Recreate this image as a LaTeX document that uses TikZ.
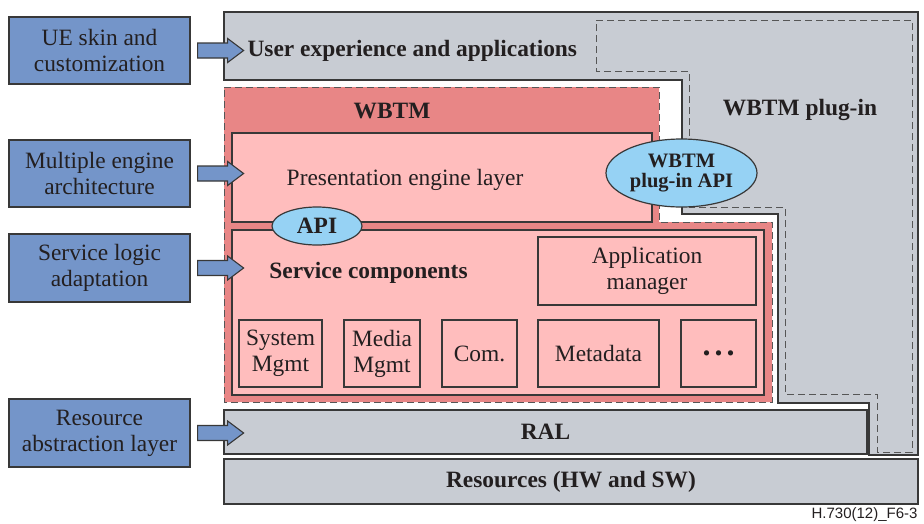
\documentclass[tikz,border=0pt]{standalone}
\usepackage{fontspec}
\setmainfont{Liberation Serif}
\newfontfamily\capfont{Liberation Sans}
\usetikzlibrary{shapes.geometric}

\definecolor{boxblue}{HTML}{7495C9}
\definecolor{layergray}{HTML}{C8CCD3}
\definecolor{wbtmpink}{HTML}{E88686}
\definecolor{lightpink}{HTML}{FFBDBD}
\definecolor{apiblue}{HTML}{96D2F4}
\definecolor{edge}{HTML}{383838}
\definecolor{ink}{HTML}{231F20}

\tikzset{
  base/.style={font=\fontsize{23.4}{26}\selectfont, text=ink},
  boldtxt/.style={base, font=\fontsize{23.4}{26}\selectfont\bfseries},
  sidebox/.style={base, draw=edge, line width=1.2pt, fill=boxblue,
    minimum width=181, minimum height=67, inner sep=0pt, align=center},
  pinkbox/.style={draw=edge, line width=1.2pt, fill=lightpink, inner sep=0pt},
  graybox/.style={draw=edge, line width=1.2pt, fill=layergray, inner sep=0pt},
  apioval/.style={ellipse, draw=edge, line width=1.2pt, fill=apiblue,
    inner sep=0pt, align=center},
  outline/.style={draw=edge, line width=1.2pt},
  dashline/.style={draw=edge!85, line width=1pt, dash pattern=on 7pt off 4pt},
  barrow/.pic={
    \draw[draw=edge, line width=1.1pt, fill=boxblue]
      (0,-7.5) -- (30,-7.5) -- (30,-12) -- (46,0) -- (30,12)
      -- (30,7.5) -- (0,7.5) -- cycle;
  }
}

\begin{document}
\begin{tikzpicture}[x=1pt, y=-1pt]
\useasboundingbox (0,0) rectangle (924,523);

% plug-in area merged with the user experience layer
\path[outline, fill=layergray]
  (224,12) -- (918,12) -- (918,455) -- (869,455) -- (869,403)
  -- (778,403) -- (778,214) -- (682,214) -- (682,80) -- (224,80) -- cycle;
\path[dashline]
  (596,20) -- (912,20) -- (912,452) -- (877,452) -- (877,394)
  -- (785,394) -- (785,207) -- (689,207) -- (689,71) -- (596,71) -- cycle;

% WBTM region
\path[fill=wbtmpink, dashline]
  (224,87) -- (659,87) -- (659,222) -- (772,222) -- (772,402)
  -- (224,402) -- cycle;

% layers
\node[pinkbox, minimum width=420, minimum height=89] (pres) at (442,177.5) {};
\node[pinkbox, minimum width=532, minimum height=165] (svc) at (498,312.5) {};
\node[pinkbox, base, minimum width=218, minimum height=68, align=center]
  (appmgr) at (647,271) {Application\\manager};
\node[pinkbox, base, minimum width=83, minimum height=67, align=center]
  (sys) at (280.5,353.5) {System\\Mgmt};
\node[pinkbox, base, minimum width=76, minimum height=67, align=center]
  (media) at (382,353.5) {Media\\Mgmt};
\node[pinkbox, base, minimum width=75, minimum height=67]
  (com) at (479.5,353.5) {Com.};
\node[pinkbox, base, minimum width=121, minimum height=67]
  (meta) at (598.5,353.5) {Metadata};
\node[pinkbox, text=ink, font=\fontsize{32}{32}\selectfont\bfseries,
  minimum width=75, minimum height=67]
  (more) at (718.5,353.5) {.\hspace{4pt}.\hspace{4pt}.};

\node[graybox, boldtxt, minimum width=643, minimum height=44]
  (ral) at (545.5,432) {RAL};
\node[graybox, boldtxt, minimum width=694, minimum height=45]
  (res) at (571,481.5) {Resources (HW and SW)};

% labels
\node[boldtxt, anchor=west] (uxl) at (244,50.5) {User experience and applications};
\node[boldtxt] (plugl) at (800,110) {WBTM plug-in};
\node[boldtxt] (wbtml) at (392,111.5) {WBTM};
\node[base] (presl) at (405,179.5) {Presentation engine layer};
\node[boldtxt] (svcl) at (368.5,272.5) {Service components};

% interfaces
\node[apioval, boldtxt, minimum width=90, minimum height=38] (api) at (317,226) {API};
\node[apioval, minimum width=151, minimum height=68,
  font=\fontsize{20.5}{20}\selectfont\bfseries, text=ink]
  (papi) at (681.5,173) {WBTM\\plug-in API};

% aspect boxes on the left
\node[sidebox] (ue)  at (99.5,50.5)  {UE skin and\\customization};
\node[sidebox] (mea) at (99.5,173.5) {Multiple engine\\architecture};
\node[sidebox, minimum height=68] (sla) at (99.5,268) {Service logic\\adaptation};
\node[sidebox, minimum height=68] (rsl) at (99.5,433) {Resource\\abstraction layer};

\pic at ([xshift=7]ue.east)  {barrow};
\pic at ([xshift=7]mea.east) {barrow};
\pic at ([xshift=7]sla.east) {barrow};
\pic at ([xshift=7]rsl.east) {barrow};

\node[anchor=base east, font=\capfont\fontsize{15}{17}\selectfont, text=ink]
  (cap) at (921,518) {H.730(12)\_F6-3};
\end{tikzpicture}
\end{document}
